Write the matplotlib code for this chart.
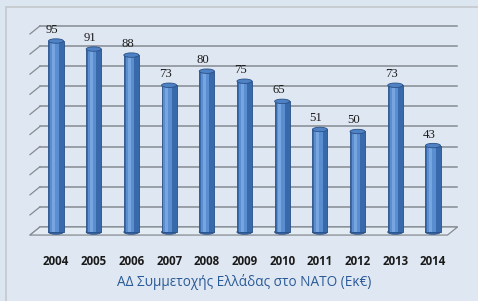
import matplotlib
matplotlib.use('Agg')
import matplotlib.pyplot as plt
from matplotlib.patches import Ellipse, Rectangle, Polygon

# data
years = ['2004', '2005', '2006', '2007', '2008', '2009', '2010', '2011', '2012', '2013', '2014']
values = [95, 91, 88, 73, 80, 75, 65, 51, 50, 73, 43]
grid_vals = list(range(0, 101, 10))
caption = 'ΑΔ Συμμετοχής Ελλάδας στο ΝΑΤΟ (Εκ€)'

bg = '#dce6f0'
fig = plt.figure(figsize=(4.78, 3.01), dpi=100, facecolor=bg)
ax = fig.add_axes([0, 0, 1, 1])
ax.set_facecolor(bg)
ax.set_xlim(-1.485, 11.194)
ax.set_ylim(-34.3, 115.4)
ax.axis('off')

# outer chart frame
frame = Rectangle((0.012, -0.05), 1.2, 1.027, transform=ax.transAxes, facecolor='#dfe8f2',
                  edgecolor='#c4c8cc', lw=1.2, zorder=0)
ax.add_patch(frame)

# 3d offsets (back wall vs front) in data units
dx, dy = 0.265, 2.5
x0, x1 = -0.425, 10.65

# back wall gridlines + left wall diagonals
for v in grid_vals:
    ax.plot([x0, x1], [v + dy, v + dy], color='#868b92', lw=1.1, zorder=1)
    ax.plot([x0 - dx, x0], [v + dy - 4, v + dy], color='#868b92', lw=0.9, zorder=1)

# floor
floor = Polygon([[x0, dy], [x1, dy], [x1 - dx, dy - 4], [x0 - dx, dy - 4]], closed=True,
                facecolor='#e3ebf3', edgecolor='#868b92', lw=0.9, zorder=1)
ax.add_patch(floor)

# cylinders
xs = list(range(len(years)))
w = 0.4
ax.bar(xs, values, width=w, color='#3869aa', edgecolor='#2a5087', lw=0.6, zorder=3)
ax.bar([x - 0.04 for x in xs], values, width=0.22, color='#5a8ed0', lw=0, zorder=4)
ax.bar([x - 0.06 for x in xs], values, width=0.08, color='#76a5e0', lw=0, zorder=4)
for x, v in zip(xs, values):
    ax.add_patch(Ellipse((x, v), w, 2.2, facecolor='#4f82c4', edgecolor='#2a5087', lw=0.6, zorder=5))
    ax.add_patch(Ellipse((x, 0), w, 2.2, facecolor='#3869aa', edgecolor='#2a5087', lw=0.6, zorder=2))
    ax.text(x - 0.1, v + 5.5, str(v), ha='center', va='center', fontsize=9.2,
            family='Liberation Serif', color='#1c1c1c', zorder=6)

# year labels and caption
for x, y in zip(xs, years):
    ax.text(x, -14.9, y, ha='center', va='center', fontsize=8.3, fontweight='bold',
            family='Open Sans', color='#1a1a1a')
ax.text(5.0, -24.9, caption, ha='center', va='center', fontsize=9.8,
        family='Open Sans', color='#2a5a96')

fig.savefig('out.png', dpi=100, facecolor=bg)
